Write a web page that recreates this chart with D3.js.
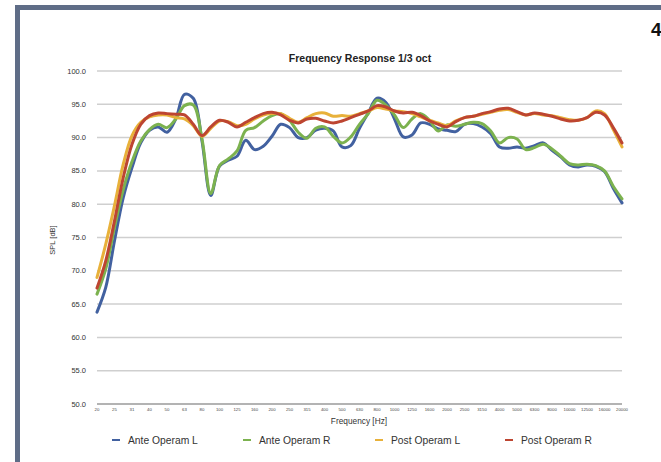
<!DOCTYPE html>
<html><head><meta charset="utf-8">
<script src="https://cdn.jsdelivr.net/npm/d3@7"></script>
<style>html,body{margin:0;padding:0;background:#fff;}svg{display:block;font-family:"Liberation Sans",Arial,sans-serif;}</style>
</head><body>
<svg id="c" width="661" height="462"></svg>
<script>
const frequencies = [20,22.4,25,28,31.5,35.5,40,45,50,56,63,71,80,90,100,112,125,140,160,180,200,224,250,280,315,355,400,450,500,560,630,710,800,900,1000,1120,1250,1400,1600,1800,2000,2240,2500,2800,3150,3550,4000,4500,5000,5600,6300,7100,8000,9000,10000,11200,12500,14000,16000,18000,20000];
const tickLabels = ["20","25","31","40","50","63","80","100","125","160","200","250","315","400","500","630","800","1000","1250","1600","2000","2500","3150","4000","5000","6300","8000","10000","12500","16000","20000"];
const yTicks = [50,55,60,65,70,75,80,85,90,95,100];
const seriesNames = ["Ante Operam L","Ante Operam R","Post Operam L","Post Operam R"];
const seriesColors = ["#4261a0","#7cb24f","#e8b13a","#bd4531"];
const anteL = [63.8,67.5,74.5,81,85.5,89.2,91.1,91.6,90.8,92.8,96.5,95.9,89.5,81.3,85.7,86.6,87.2,89.6,88.2,88.7,90.2,92.0,91.5,90.0,90.0,91.1,91.4,91.0,88.6,88.8,91.4,93.7,95.9,95.3,92.8,90.1,90.4,92.2,92.0,91.3,91.1,90.9,92.0,92.1,91.6,90.6,88.6,88.4,88.6,88.4,88.8,89.2,88.1,87.1,85.9,85.6,85.9,85.7,84.9,82.4,80.2];
const anteR = [66.5,70.3,76.5,82.2,86.4,89.5,91.2,92.0,91.5,92.8,94.8,94.9,89.8,81.6,85.8,86.8,88.0,91.1,91.5,92.5,93.3,93.6,92.6,90.8,89.9,91.4,91.6,90.2,89.2,90.1,92.0,93.6,95.6,94.9,93.4,91.5,92.8,93.6,92.6,91.0,91.9,91.7,92.0,92.3,92.1,91.0,89.2,90.0,89.8,88.2,88.5,89.0,88.3,87.2,86.1,85.9,86.0,85.8,85.0,82.7,80.8];
const postL = [69.0,74.0,79.8,86.0,90.3,92.3,93.1,93.4,93.4,93.0,92.8,91.8,90.2,91.4,92.5,92.4,91.8,92.0,92.8,93.4,93.6,93.6,92.9,92.3,93.0,93.6,93.7,93.2,93.3,93.2,93.6,94.0,94.5,94.3,94.0,93.9,93.6,93.1,92.6,92.2,91.8,92.5,93.0,93.2,93.5,93.8,94.1,94.2,93.8,93.4,93.6,93.4,93.3,93.0,92.7,92.6,93.0,94.0,93.6,91.2,88.6];
const postR = [67.4,71.5,77.5,84.0,89.0,92.0,93.3,93.7,93.6,93.5,93.4,92.0,90.3,91.6,92.6,92.3,91.6,92.3,93.0,93.6,93.8,93.4,92.6,92.2,92.8,92.9,92.5,92.2,92.5,93.0,93.5,94.0,94.8,94.6,94.0,93.7,93.8,93.3,92.5,92.0,91.6,92.4,93.0,93.2,93.6,93.9,94.3,94.4,93.9,93.4,93.7,93.5,93.2,92.8,92.5,92.6,93.0,93.8,93.4,91.5,89.2];
const seriesValues = [anteL, anteR, postL, postR];

const svg = d3.select("#c");
// frame
svg.append("rect").attr("x",17.5).attr("y",7.5).attr("width",700).attr("height",500)
  .attr("fill","#fff").attr("stroke","#5f6d87").attr("stroke-width",5);
svg.append("text").attr("x",651).attr("y",36).attr("font-size",19).attr("font-weight","bold")
  .attr("fill","#111").text("4");

const x = d3.scalePoint().domain(frequencies).range([97,622]);
const y = d3.scaleLinear().domain([50,100]).range([404,71]);

// gridlines
svg.append("g").selectAll("line").data(yTicks).join("line")
  .attr("x1",97).attr("x2",622).attr("y1",d=>y(d)).attr("y2",d=>y(d))
  .attr("stroke",d=>d===50?"#9a9a9a":"#cfcfcf").attr("stroke-width",1.5);
// y labels
svg.append("g").selectAll("text").data(yTicks).join("text")
  .attr("x",86).attr("y",d=>y(d)+2.5).attr("text-anchor","end").attr("font-size",7.5)
  .attr("fill","#333").text(d=>d.toFixed(1));
// x tick labels
const xTickVals = frequencies.filter((f,i)=>i%2===0);
svg.append("g").selectAll("text").data(xTickVals).join("text")
  .attr("x",d=>x(d)).attr("y",411).attr("text-anchor","middle").attr("font-size",4.3)
  .attr("fill","#444").text((d,i)=>tickLabels[i]);
// axis titles
svg.append("text").attr("x",359).attr("y",424).attr("text-anchor","middle").attr("font-size",8.3)
  .attr("fill","#333").text("Frequency [Hz]");
svg.append("text").attr("transform","translate(55,240) rotate(-90)").attr("text-anchor","middle")
  .attr("font-size",7.5).attr("fill","#333").text("SPL [dB]");
svg.append("text").attr("x",360).attr("y",62).attr("text-anchor","middle").attr("font-size",10.5)
  .attr("font-weight","bold").attr("fill","#222").text("Frequency Response 1/3 oct");

// lines
const line = d3.line().x((d,i)=>x(frequencies[i])).y(d=>y(d)).curve(d3.curveCatmullRom.alpha(0.5));
svg.append("g").selectAll("path").data(seriesValues).join("path")
  .attr("d",d=>line(d)).attr("fill","none").attr("stroke",(d,i)=>seriesColors[i])
  .attr("stroke-width",3).attr("stroke-linejoin","round").attr("stroke-linecap","round");

// legend
const legX = [112,243,375,505];
const lg = svg.append("g").selectAll("g").data(seriesNames).join("g")
  .attr("transform",(d,i)=>`translate(${legX[i]},440)`);
lg.append("line").attr("x1",0).attr("x2",8).attr("y1",0).attr("y2",0)
  .attr("stroke",(d,i)=>seriesColors[i]).attr("stroke-width",2);
lg.append("text").attr("x",16).attr("y",3.5).attr("font-size",10.3).attr("fill","#333").text(d=>d);
</script>
</body></html>
